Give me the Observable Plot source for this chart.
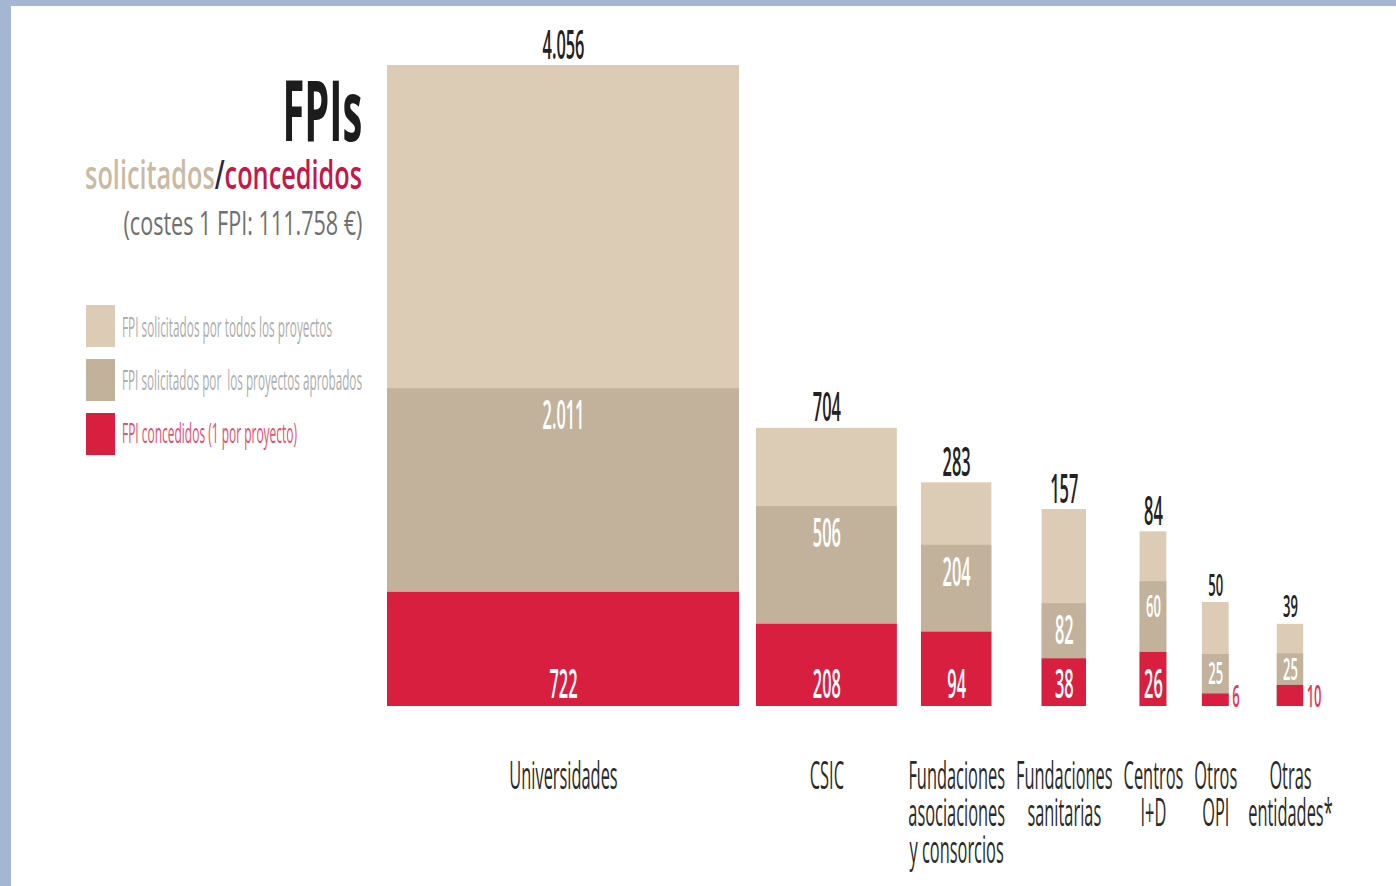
<!DOCTYPE html>
<html><head><meta charset="utf-8">
<script src="https://cdn.jsdelivr.net/npm/d3@7"></script>
<script src="https://cdn.jsdelivr.net/npm/@observablehq/plot@0.6"></script>
<style>
html,body{margin:0;padding:0;}
body{width:1396px;height:886px;background:#a4b6d4;position:relative;overflow:hidden;font-family:"Open Sans",sans-serif;}
#lienzo{position:absolute;left:11px;top:6px;width:1385px;height:880px;background:#fff;}
#lienzo svg{position:absolute;left:0;top:0;}
.t{position:absolute;white-space:pre;line-height:1;transform-origin:right center;}
.l{position:absolute;white-space:pre;line-height:1;transform-origin:left center;}
.sw{position:absolute;}
</style></head><body>
<div id="lienzo"></div>
<script>
// ---------- datos ----------
const categorias = ["Universidades", "CSIC", "Fundaciones\nasociaciones\ny consorcios", "Fundaciones\nsanitarias", "Centros\nI+D", "Otros\nOPI", "Otras\nentidades*"];
const solicitados = [4056, 704, 283, 157, 84, 50, 39];   // FPI solicitados por todos los proyectos
const aprobados   = [2011, 506, 204, 82, 60, 25, 25];    // FPI solicitados por los proyectos aprobados
const concedidos  = [722, 208, 94, 38, 26, 6, 10];       // FPI concedidos (1 por proyecto)
const anchoRelativo = [100, 40, 20, 12.6, 7.6, 7.6, 7.5]; // anchura relativa de cada barra (área ∝ solicitados)
const leyenda = ["FPI solicitados por todos los proyectos", "FPI solicitados por  los proyectos aprobados", "FPI concedidos (1 por proyecto)"];
const titulo = "FPIs";
const subtitulo = ["solicitados", "/", "concedidos"];
const nota = "(costes 1 FPI: 111.758 €)";

// ---------- estilo / maquetación ----------
const W = 1385, H = 880;
const COL = {sol: "#dccbb5", apr: "#c2b29c", con: "#d81f40"};
const ESC = 0.42;          // condensación horizontal del texto
const PX = 3.52;           // píxeles por unidad de anchura
const X0 = 376, GAP = 11;
const Y_BASE = 700, Y_TOP = 59;
const FS_CAT = 39;

const fmt = d3.formatLocale({decimal: ",", thousands: ".", grouping: [3], currency: ["", "€"]}).format(",");

const ctx = document.createElement("canvas").getContext("2d");
ctx.font = `${FS_CAT}px "Open Sans"`;
const anchoEtiqueta = categorias.map(c => Math.max(...c.split("\n").map(l => ctx.measureText(l).width)) * ESC);
const anchoBarra = anchoRelativo.map(a => a * PX);

let cursor = X0;
const filas = categorias.map((c, i) => {
  const slot = Math.max(anchoBarra[i], anchoEtiqueta[i]);
  const centro = cursor + slot / 2;
  cursor += slot + (i === 0 ? 17 : GAP);
  const a = anchoRelativo[i];
  return {
    cat: c, sol: solicitados[i], apr: aprobados[i], con: concedidos[i], ancho: a,
    xc: centro / PX, x1: (centro - anchoBarra[i] / 2) / PX, x2: (centro + anchoBarra[i] / 2) / PX,
    ySol: solicitados[i] / a, yApr: aprobados[i] / a, yCon: concedidos[i] / a
  };
});
const yMax = d3.max(filas, d => d.ySol);
const ppuY = (Y_BASE - Y_TOP) / yMax;
const fsValor = (v, a) => (a < 10 && v <= 60 ? 31 : 39);
filas.forEach(d => {
  const fs = fsValor(d.apr, d.ancho);
  const off = (14 + 0.714 * fs / 2) / ppuY;
  d.yAprLbl = Math.max(d.yApr - off, (d.yApr + d.yCon) / 2);
  d.conDentro = d.yCon * ppuY > 30;
});

const svg = Plot.plot({
  width: W, height: H, margin: 0,
  x: {domain: [0, W / PX], range: [0, W], axis: null},
  y: {domain: [0, yMax], range: [Y_BASE, Y_TOP], axis: null},
  style: {fontFamily: "'Open Sans', sans-serif", background: "transparent"},
  marks: [
    Plot.rectY(filas, {x1: "x1", x2: "x2", y1: 0, y2: "ySol", fill: COL.sol}),
    Plot.rectY(filas, {x1: "x1", x2: "x2", y1: 0, y2: "yApr", fill: COL.apr}),
    Plot.rectY(filas, {x1: "x1", x2: "x2", y1: 0, y2: "yCon", fill: COL.con}),
    Plot.text(filas, {x: "xc", y: "ySol", text: d => fmt(d.sol), lineAnchor: "bottom", dy: -7,
      fontSize: d => fsValor(d.sol, d.ancho), fontWeight: 600, fill: "#222"}),
    Plot.text(filas, {x: "xc", y: "yAprLbl", text: d => fmt(d.apr), lineAnchor: "middle",
      fontSize: d => fsValor(d.apr, d.ancho), fontWeight: 600, fill: "#fff"}),
    Plot.text(filas.filter(d => d.conDentro), {x: "xc", y: 0, text: d => fmt(d.con), lineAnchor: "bottom", dy: -9,
      fontSize: 39, fontWeight: 600, fill: "#fff"}),
    Plot.text(filas.filter(d => !d.conDentro), {x: "x2", y: 0, text: d => fmt(d.con), lineAnchor: "bottom", dy: 0, dx: 3,
      textAnchor: "start", fontSize: 31, fontWeight: 600, fill: "#e2385e"}),
    Plot.text(filas, {x: "xc", y: 0, text: "cat", lineAnchor: "top", dy: 56, fontSize: FS_CAT, lineHeight: 0.95,
      fill: "#2a2a2a"})
  ]
});
svg.querySelectorAll("text").forEach(t => {
  const tr = t.getAttribute("transform");
  if (tr) t.setAttribute("transform", tr + ` scale(${ESC},1)`);
  else {
    const x = +t.getAttribute("x") || 0, y = +t.getAttribute("y") || 0;
    t.removeAttribute("x"); t.removeAttribute("y");
    t.setAttribute("transform", `translate(${x},${y}) scale(${ESC},1)`);
  }
});
document.getElementById("lienzo").appendChild(svg);

// ---------- título y leyenda ----------
function bloque(cls, html, estilo, anchoObj) {
  const el = document.createElement("div");
  el.className = cls; el.innerHTML = html;
  Object.assign(el.style, estilo);
  document.body.appendChild(el);
  const w = el.getBoundingClientRect().width;
  el.style.transform = `scaleX(${anchoObj / w})`;
  return el;
}
const baseTop = (b, fs) => (b - 0.888 * fs) + "px";
bloque("t", titulo, {right: (1396 - 362) + "px", top: baseTop(142, 84), fontSize: "84px", fontWeight: 700, color: "#1c1c1c"}, 80);
bloque("t", `<span style="color:#cbbaa3">${subtitulo[0]}</span><span style="color:#2a2a40">${subtitulo[1]}</span><span style="color:#c4174a">${subtitulo[2]}</span>`,
  {right: (1396 - 362) + "px", top: baseTop(190, 40), fontSize: "40px", fontWeight: 600}, 277);
bloque("t", nota, {right: (1396 - 362) + "px", top: baseTop(235, 32), fontSize: "32px", color: "#707070"}, 239);

const colLeyenda = [COL.sol, COL.apr, COL.con];
const colTextoLeyenda = ["#adadad", "#adadad", "#e2506f"];
const anchosLeyenda = [210, 240, 175];
leyenda.forEach((txt, i) => {
  const sw = document.createElement("div");
  sw.className = "sw";
  Object.assign(sw.style, {left: "86px", top: (305 + i * 54) + "px", width: "29px", height: "42px", background: colLeyenda[i]});
  document.body.appendChild(sw);
  bloque("l", txt, {left: "122px", top: baseTop(337 + i * 53, 28), fontSize: "28px", color: colTextoLeyenda[i]}, anchosLeyenda[i]);
});
</script>
</body></html>
